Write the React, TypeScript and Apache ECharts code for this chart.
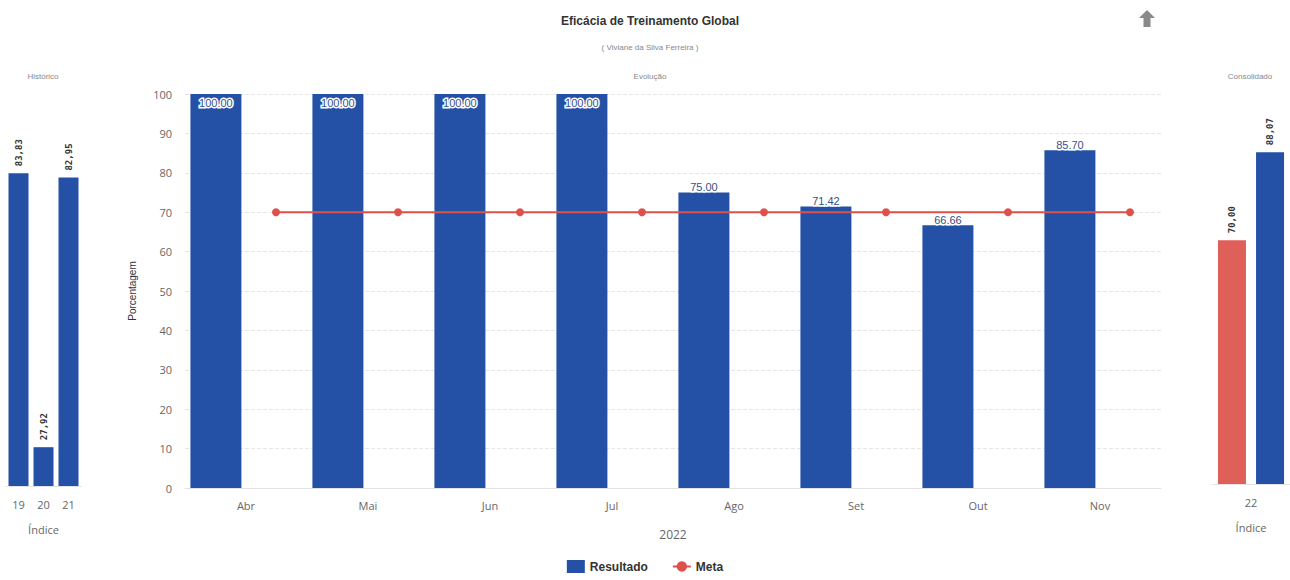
import React, { useEffect, useRef } from "react";
import * as echarts from "echarts";

const months = ["Abr", "Mai", "Jun", "Jul", "Ago", "Set", "Out", "Nov"];
const resultado = [100, 100, 100, 100, 75.0, 71.42, 66.66, 85.7];
const meta = [70, 70, 70, 70, 70, 70, 70, 70];
const historicoCats = ["19", "20", "21"];
const historico = [83.83, 27.92, 82.95];
const consolidadoCats = ["22"];
const consolidadoMeta = [70.0];
const consolidadoResultado = [88.07];

const BLUE = "#2451a6";
const RED = "#e0504a";
const RED_BAR = "#df5f59";
const GRAY = "#666";

export default function App() {
  const ref = useRef<HTMLDivElement>(null);
  useEffect(() => {
    if (!ref.current) return;
    const chart = echarts.init(ref.current, null, { renderer: "svg" });
    const comma = (v: number) => v.toFixed(2).replace(".", ",");
    const sideLabel = {
      show: true,
      position: "top",
      rotate: 90,
      distance: 7,
      align: "left",
      verticalAlign: "middle",
      fontSize: 9,
      fontWeight: "bold",
      fontFamily: "DejaVu Sans Mono",
      color: "#333",
      formatter: (p: any) => comma(p.value),
    };
    const sideX = (gridIndex: number, data: string[]) => ({
      type: "category",
      gridIndex,
      data,
      name: "Índice",
      nameLocation: "middle",
      nameGap: 38,
      nameTextStyle: { color: GRAY, fontSize: 11, fontFamily: "Open Sans" },
      axisLine: { show: true, lineStyle: { color: "#e3e3e3" } },
      axisTick: { show: false },
      axisLabel: { color: GRAY, fontSize: 11, margin: 13, fontFamily: "Open Sans" },
    });
    const sideY = (gridIndex: number) => ({
      type: "value",
      gridIndex,
      min: 20,
      max: 100,
      show: false,
      splitLine: { show: false },
    });
    chart.setOption({
      animation: false,
      textStyle: { fontFamily: "Liberation Sans" },
      title: [
        {
          text: "Eficácia de Treinamento Global",
          left: 645,
          top: 10,
          textAlign: "center",
          textStyle: { fontSize: 12, fontWeight: "bold", color: "#333" },
        },
        {
          text: "( Viviane da Silva Ferreira )",
          left: 645,
          top: 38,
          textAlign: "center",
          textStyle: { fontSize: 8, fontWeight: "normal", color: "#888" },
        },
        {
          text: "Evolução",
          left: 645,
          top: 67,
          textAlign: "center",
          textStyle: { fontSize: 8, fontWeight: "normal", color: "#888" },
        },
        {
          text: "Histórico",
          left: 38,
          top: 67,
          textAlign: "center",
          textStyle: { fontSize: 8, fontWeight: "normal", color: "#888" },
        },
        {
          text: "Consolidado",
          left: 1245,
          top: 67,
          textAlign: "center",
          textStyle: { fontSize: 8, fontWeight: "normal", color: "#888" },
        },
      ],
      legend: {
        data: [
          { name: "Resultado", icon: "rect" },
          { name: "Meta" },
        ],
        bottom: 2,
        left: "center",
        itemWidth: 18,
        itemHeight: 13,
        itemGap: 24,
        textStyle: { fontSize: 12, fontWeight: "bold", color: "#333" },
      },
      graphic: [
        {
          type: "polygon",
          shape: {
            points: [
              [1147, 10],
              [1155, 18],
              [1150.5, 18],
              [1150.5, 27],
              [1143.5, 27],
              [1143.5, 18],
              [1139, 18],
            ],
          },
          style: { fill: "#8a8a8a" },
        },
      ],
      grid: [
        { left: 185, right: 129, top: 94, bottom: 92 },
        { left: 215, right: 99, top: 94, bottom: 92 },
        { left: 6, width: 75, top: 94, bottom: 94 },
        { left: 1212, width: 78, top: 94, bottom: 96 },
      ],
      xAxis: [
        {
          type: "category",
          gridIndex: 0,
          data: months,
          name: "2022",
          nameLocation: "middle",
          nameGap: 40,
          nameTextStyle: { color: GRAY, fontSize: 12, fontFamily: "Open Sans" },
          axisLine: { show: true, lineStyle: { color: "#e3e3e3" } },
          axisTick: { show: false },
          axisLabel: { color: GRAY, fontSize: 11, margin: 12, fontFamily: "Open Sans" },
        },
        {
          type: "category",
          gridIndex: 1,
          data: months,
          show: false,
        },
        sideX(2, historicoCats),
        sideX(3, consolidadoCats),
      ],
      yAxis: [
        {
          type: "value",
          gridIndex: 0,
          min: 0,
          max: 100,
          interval: 10,
          name: "Porcentagem",
          nameLocation: "middle",
          nameGap: 48,
          nameTextStyle: { color: "#333", fontSize: 10 },
          axisLine: { show: false },
          axisTick: { show: false },
          axisLabel: { color: GRAY, fontSize: 11, margin: 13, fontFamily: "Open Sans" },
          splitLine: { lineStyle: { color: "#e6e6e6", type: "dashed" } },
        },
        { type: "value", gridIndex: 1, min: 0, max: 100, show: false, splitLine: { show: false } },
        sideY(2),
        sideY(3),
      ],
      series: [
        {
          name: "Resultado",
          type: "bar",
          xAxisIndex: 0,
          yAxisIndex: 0,
          barWidth: 51,
          barGap: "18%",
          itemStyle: { color: BLUE },
          data: resultado.map((v) => ({
            value: v,
            label:
              v >= 100
                ? { position: "insideTop", distance: 3 }
                : { position: "top", distance: 0 },
          })),
          label: {
            show: true,
            fontSize: 11,
            color: "#3a4f82",
            textBorderColor: "#fff",
            textBorderWidth: 3,
            fontFamily: "Liberation Sans",
            formatter: (p: any) => p.value.toFixed(2),
          },
          z: 2,
        },
        {
          name: "_slot",
          type: "bar",
          xAxisIndex: 0,
          yAxisIndex: 0,
          barWidth: 51,
          data: [],
          silent: true,
        },
        {
          name: "Meta",
          type: "line",
          xAxisIndex: 1,
          yAxisIndex: 1,
          data: meta,
          symbol: "circle",
          symbolSize: 8,
          itemStyle: { color: RED },
          lineStyle: { color: RED, width: 2 },
          z: 5,
        },
        {
          name: "Histórico",
          type: "bar",
          xAxisIndex: 2,
          yAxisIndex: 2,
          barWidth: 20,
          itemStyle: { color: BLUE },
          label: sideLabel,
          data: historico,
        },
        {
          name: "ConsMeta",
          type: "bar",
          xAxisIndex: 3,
          yAxisIndex: 3,
          barWidth: 28,
          barGap: "36%",
          itemStyle: { color: RED_BAR },
          label: sideLabel,
          data: consolidadoMeta,
        },
        {
          name: "ConsResultado",
          type: "bar",
          xAxisIndex: 3,
          yAxisIndex: 3,
          barWidth: 28,
          barGap: "36%",
          itemStyle: { color: BLUE },
          label: sideLabel,
          data: consolidadoResultado,
        },
      ],
    });
    return () => chart.dispose();
  }, []);
  return (
    <div
      ref={ref}
      style={{ position: "fixed", left: 0, top: 0, width: 1290, height: 580, background: "#fff" }}
    />
  );
}
